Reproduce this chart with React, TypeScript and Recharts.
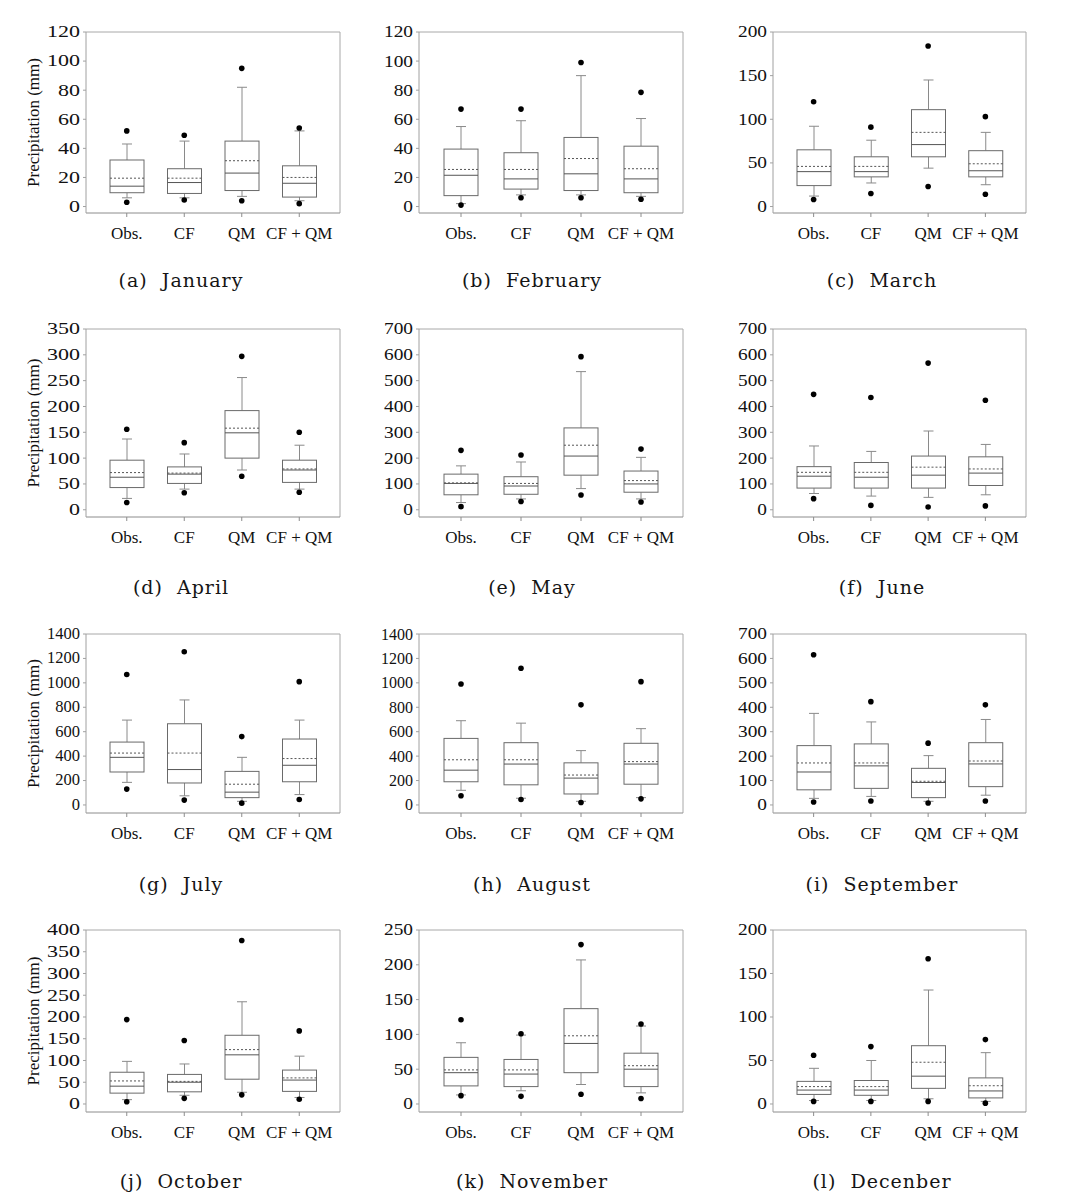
import React from 'react';
import { ComposedChart, Bar, Scatter, XAxis, YAxis, Label, CartesianGrid } from 'recharts';

const categories = ['Obs.', 'CF', 'QM', 'CF + QM'];
const months = ['January', 'February', 'March', 'April', 'May', 'June', 'July', 'August', 'September', 'October', 'November', 'Decenber'];
const letters = ['a', 'b', 'c', 'd', 'e', 'f', 'g', 'h', 'i', 'j', 'k', 'l'];
const yMax = [120, 120, 200, 350, 700, 700, 1400, 1400, 700, 400, 250, 200];
const yStep = [20, 20, 50, 50, 100, 100, 200, 200, 100, 50, 50, 50];

// columns per row: Obs., CF, QM, CF + QM
const p95 = [
  [52, 49, 95, 54], [67, 67, 99, 78.5], [120, 91, 184, 103], [156, 130, 297, 150],
  [230, 212, 593, 235], [447, 435, 568, 424], [1068, 1255, 560, 1010], [990, 1120, 820, 1010],
  [615, 423, 253, 410], [194, 146, 376, 168], [121, 101, 229, 115], [56, 66, 167, 74],
];
const p90 = [
  [43, 45, 82, 52], [55, 59, 90, 60.5], [92, 76, 145, 85], [137, 108, 256, 125],
  [170, 185, 535, 203], [247, 226, 305, 253], [695, 860, 390, 695], [690, 670, 445, 625],
  [375, 340, 202, 350], [98, 92, 235, 110], [88, 99, 207, 112], [41, 50, 131, 59],
];
const q3 = [
  [32, 26, 45, 28], [39.5, 37, 47.5, 41.5], [65, 57, 111, 64], [96, 83, 192, 96],
  [138, 128, 317, 150], [167, 183, 208, 205], [515, 665, 275, 540], [545, 510, 345, 505],
  [243, 250, 150, 255], [73, 68, 158, 78], [67, 64, 137, 73], [26, 27, 67, 30],
];
const means = [
  [19.5, 19.5, 31.5, 20], [25.5, 25.5, 33, 26], [46, 46, 85, 49], [72, 71, 158, 79],
  [104, 102, 250, 113], [145, 145, 165, 158], [425, 425, 170, 380], [370, 370, 245, 355],
  [172, 172, 97, 180], [53, 52, 125, 60], [49, 49, 98, 55], [20, 20, 48, 21],
];
const medians = [
  [14, 16.5, 23, 16], [21.5, 19, 22.5, 19], [40, 40, 71, 41], [63, 69, 149, 77],
  [102, 92, 208, 100], [130, 126, 134, 142], [390, 290, 105, 325], [285, 335, 220, 335],
  [135, 160, 92, 168], [41, 50, 113, 55], [45, 43, 87, 50], [16, 16, 32, 15],
];
const q1 = [
  [9.5, 9, 11, 6.5], [7.5, 12, 11, 9.5], [24, 34, 57, 34], [43, 51, 100, 53],
  [58, 60, 134, 68], [84, 84, 84, 94], [270, 180, 60, 190], [190, 165, 90, 170],
  [62, 68, 30, 75], [25, 28, 57, 29], [26, 25, 45, 25], [11, 10, 18, 7],
];
const p10 = [
  [6, 6, 7, 4], [2, 8, 8, 7], [12, 27, 44, 25], [22, 40, 77, 40],
  [28, 42, 82, 42], [63, 53, 48, 58], [185, 75, 30, 85], [120, 55, 30, 60],
  [27, 35, 15, 40], [10, 20, 27, 15], [13, 19, 28, 16], [4, 4, 6, 3],
];
const p5 = [
  [3, 4.5, 4, 2], [1, 6, 6, 5], [8, 15, 23, 14], [14, 33, 65, 34],
  [12, 32, 57, 30], [43, 17, 11, 15], [130, 40, 15, 45], [75, 45, 20, 50],
  [12, 16, 8, 16], [5, 13, 21, 11], [12, 11, 14, 8], [3, 3, 3, 1],
];

// layout (pixels)
const COLS = [
  { L: 86, R: 340, cx: 181, labelW: 33 },
  { L: 419, R: 683, cx: 532, labelW: 29 },
  { L: 773, R: 1026, cx: 882, labelW: 29 },
];
const ROWS = [
  { T: 32, B: 213, pad: 0.037, titleY: 280 },
  { T: 329, B: 517, pad: 0.04, titleY: 587 },
  { T: 634, B: 813, pad: 0.047, titleY: 884 },
  { T: 930, B: 1112, pad: 0.046, titleY: 1181 },
];

const SERIF = '"Liberation Serif", "Times New Roman", serif';
const M = { top: 16, right: 6, bottom: 8, left: 12 };
const YW = 58;
const XH = 42;
const TICK_FS = 16;

const BoxShape = (props: any) => {
  const { x, y, width, height, payload } = props;
  if (height == null || !payload) return null;
  const k = height / (payload.q3 - payload.q1);
  const toY = (v: number) => y + (payload.q3 - v) * k;
  const cx = x + width / 2;
  const cap = 5;
  const yMed = toY(payload.median);
  const yMean = toY(payload.mean);
  const y90 = toY(payload.p90);
  const y10 = toY(payload.p10);
  const yB = y + height;
  return (
    <g>
      <line x1={cx} x2={cx} y1={y} y2={y90} stroke="#8a8a8a" strokeWidth={1} />
      <line x1={cx - cap} x2={cx + cap} y1={y90} y2={y90} stroke="#8a8a8a" strokeWidth={1} />
      <line x1={cx} x2={cx} y1={yB} y2={y10} stroke="#8a8a8a" strokeWidth={1} />
      <line x1={cx - cap} x2={cx + cap} y1={y10} y2={y10} stroke="#8a8a8a" strokeWidth={1} />
      <rect x={x} y={y} width={width} height={height} fill="#fff" stroke="#6a6a6a" strokeWidth={1} />
      <line x1={x} x2={x + width} y1={yMean} y2={yMean} stroke="#555" strokeWidth={1} strokeDasharray="2 2" />
      <line x1={x} x2={x + width} y1={yMed} y2={yMed} stroke="#555" strokeWidth={1} />
    </g>
  );
};

const DotShape = (props: any) => {
  const { cx, cy } = props;
  if (cx == null || cy == null) return null;
  return <circle cx={cx} cy={cy} r={2.8} fill="#000" />;
};

const YTick = (props: any) => {
  const { x, y, payload, sx } = props;
  return (
    <g transform={`translate(${x},${y})`}>
      <text
        transform={`scale(${sx},1)`}
        x={0}
        y={0}
        textAnchor="end"
        dominantBaseline="central"
        fontFamily={SERIF}
        fontSize={TICK_FS}
        fill="#111"
      >
        {payload.value}
      </text>
    </g>
  );
};

const YLabel = (props: any) => {
  const vb = props.viewBox || {};
  const x = 17;
  const y = (vb.y || 0) + (vb.height || 0) / 2;
  return (
    <text
      x={x}
      y={y}
      transform={`rotate(-90, ${x}, ${y})`}
      textAnchor="middle"
      dominantBaseline="central"
      fontFamily={SERIF}
      fontSize={17}
      fill="#111"
    >
      Precipitation (mm)
    </text>
  );
};

const Panel = ({ m }: { m: number }) => {
  const col = COLS[m % 3];
  const row = ROWS[Math.floor(m / 3)];
  const plotW = col.R - col.L;
  const plotH = row.B - row.T;
  const width = M.left + YW + plotW + M.right;
  const height = M.top + plotH + XH + M.bottom;
  const data = categories.map((name, i) => ({
    name,
    p5: p5[m][i],
    p10: p10[m][i],
    q1: q1[m][i],
    median: medians[m][i],
    mean: means[m][i],
    q3: q3[m][i],
    p90: p90[m][i],
    p95: p95[m][i],
  }));
  const ticks: number[] = [];
  for (let v = 0; v <= yMax[m]; v += yStep[m]) ticks.push(v);
  const lo = -yMax[m] * row.pad;
  const digits = String(yMax[m]).length;
  const sx = Math.max(1, col.labelW / (digits * 0.5 * TICK_FS));
  return (
    <div style={{ position: 'absolute', left: col.L - M.left - YW, top: row.T - M.top }}>
      <ComposedChart width={width} height={height} data={data} margin={M}>
        <CartesianGrid
          stroke="#a8a8a8"
          strokeDasharray="0"
          horizontalCoordinatesGenerator={(p: any) => [p.offset.top]}
          verticalCoordinatesGenerator={(p: any) => [p.offset.left + p.offset.width]}
        />
        <XAxis
          dataKey="name"
          type="category"
          padding={{ left: 12, right: 12 }}
          height={XH}
          tickSize={4}
          tickMargin={10}
          stroke="#8c8c8c"
          tick={{ fontFamily: SERIF, fontSize: 17, fill: '#111' }}
          interval={0}
        />
        <YAxis
          type="number"
          domain={[lo, yMax[m]]}
          ticks={ticks}
          width={YW}
          tickSize={3}
          tickMargin={3}
          stroke="#a0a0a0"
          tick={<YTick sx={sx} />}
          interval={0}
        >
          {m % 3 === 0 ? <Label content={<YLabel />} /> : null}
        </YAxis>
        <Bar
          dataKey={(d: any) => [d.q1, d.q3]}
          barSize={34}
          shape={<BoxShape />}
          isAnimationActive={false}
        />
        <Scatter dataKey="p95" shape={<DotShape />} isAnimationActive={false} />
        <Scatter dataKey="p5" shape={<DotShape />} isAnimationActive={false} />
      </ComposedChart>
    </div>
  );
};

const Title = ({ m }: { m: number }) => {
  const col = COLS[m % 3];
  const row = ROWS[Math.floor(m / 3)];
  return (
    <div
      style={{
        position: 'absolute',
        left: col.cx - 150,
        top: row.titleY - 13,
        width: 300,
        textAlign: 'center',
        fontFamily: '"DejaVu Serif", serif',
        fontSize: 19,
        letterSpacing: 1,
        color: '#151515',
        whiteSpace: 'pre',
        lineHeight: '26px',
      }}
    >
      {`(${letters[m]})\u00a0\u00a0${months[m]}`}
    </div>
  );
};

export default function App() {
  return (
    <div style={{ position: 'absolute', left: 0, top: 0, width: 1086, height: 1204, background: '#fff', overflow: 'hidden' }}>
      {months.map((_, m) => (
        <React.Fragment key={m}>
          <Panel m={m} />
          <Title m={m} />
        </React.Fragment>
      ))}
    </div>
  );
}
